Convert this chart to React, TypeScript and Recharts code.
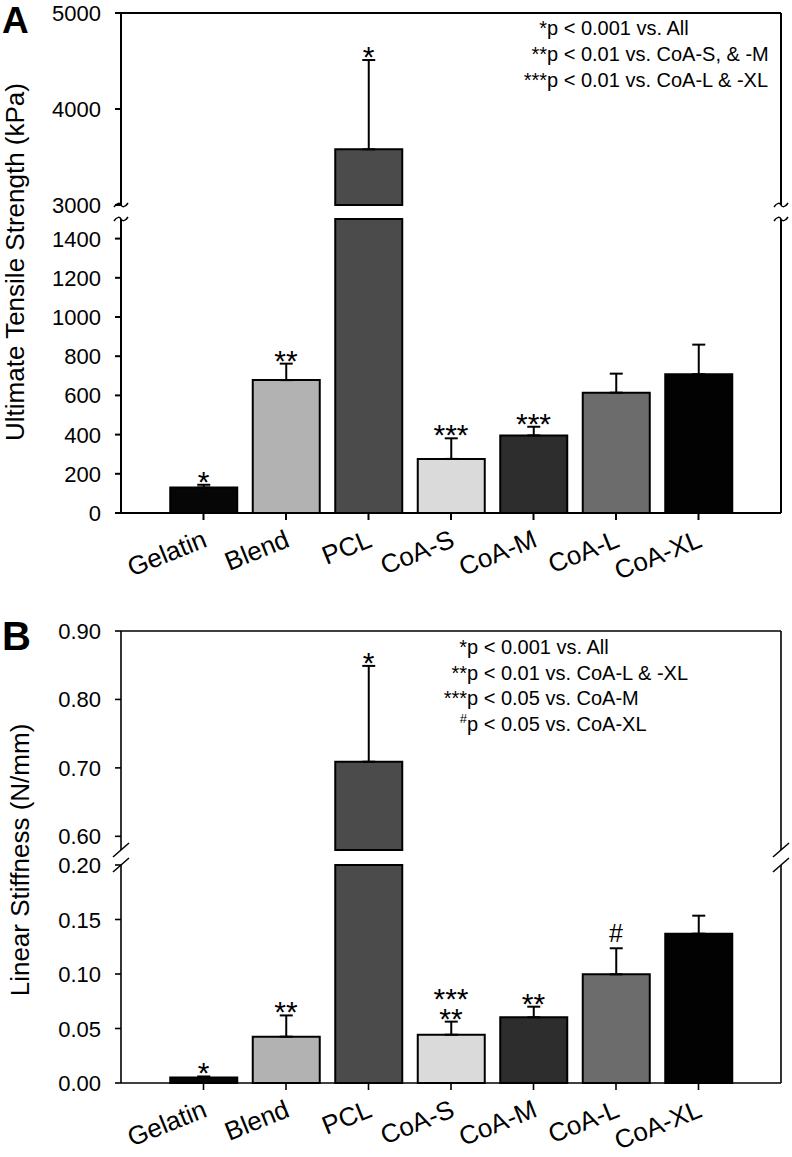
import { ComposedChart, Bar, Cell, ErrorBar, XAxis, YAxis, Line, LabelList } from 'recharts'

const FONT = '"Liberation Sans", Arial, sans-serif'

const groups = ['Gelatin', 'Blend', 'PCL', 'CoA-S', 'CoA-M', 'CoA-L', 'CoA-XL']
const barColors = ['#060606', '#b2b2b2', '#4b4b4b', '#dadada', '#2d2d2d', '#6c6c6c', '#020202']

// panel A - ultimate tensile strength (kPa)
const strengthMean = [130, 678, 3580, 276, 396, 614, 708]
const strengthSd = [14, 84, 930, 105, 44, 97, 151]
const strengthMarks = ['*', '**', '*', '***', '***', '', '']
const strengthLowTicks = [0, 200, 400, 600, 800, 1000, 1200, 1400]
const strengthHighTicks = [3000, 4000, 5000]
const strengthNotes = [
  ['*', 'p < 0.001 vs. All'],
  ['**', 'p < 0.01 vs. CoA-S, & -M'],
  ['***', 'p < 0.01 vs. CoA-L & -XL'],
]

// panel B - linear stiffness (N/mm)
const stiffMean = [0.005, 0.0425, 0.709, 0.0443, 0.0603, 0.0997, 0.137]
const stiffSd = [0.001, 0.0195, 0.14, 0.012, 0.0097, 0.0239, 0.0165]
const stiffMarks = ['*', '**', '*', '***\n**', '**', '#', '']
const stiffLowTicks = [0, 0.05, 0.1, 0.15, 0.2]
const stiffHighTicks = [0.6, 0.7, 0.8, 0.9]
const stiffNotes = [
  ['*', 'p < 0.001 vs. All'],
  ['**', 'p < 0.01 vs. CoA-L & -XL'],
  ['***', 'p < 0.05 vs. CoA-M'],
  ['#', 'p < 0.05 vs. CoA-XL'],
]

function splitRows(mean: number[], sd: number[], marks: string[], cut: number, upper: boolean) {
  return groups.map((name, i) => {
    const over = mean[i] > cut
    const keep = upper ? over : !over
    return {
      name,
      val: upper ? (over ? mean[i] : null) : Math.min(mean[i], cut),
      err: keep ? [0, sd[i]] : null,
      top: keep ? mean[i] + sd[i] : null,
      mark: keep ? marks[i] : '',
    }
  })
}

const MarkLabel = (props: any) => {
  const { x, y, value } = props
  if (y == null || x == null || !value) return null
  const lines = String(value).split('\n')
  const hash = value === '#'
  const base = hash ? y - 6 : y + 7
  return (
    <text x={x} y={base - (lines.length - 1) * 20} textAnchor="middle" fontSize={hash ? 25 : 30} fontFamily={FONT} fill="#000">
      {lines.map((t, k) => (
        <tspan key={k} x={x} dy={k === 0 ? 0 : 20}>
          {t}
        </tspan>
      ))}
    </text>
  )
}

const GroupTick = (props: any) => {
  const { x, y, payload } = props
  const ax = x + 5
  const ay = y + 24
  return (
    <text x={ax} y={ay} transform={`rotate(-22, ${ax}, ${ay})`} textAnchor="end" fontSize={26} fontFamily={FONT} fill="#000">
      {payload.value}
    </text>
  )
}

const ValueTick = (props: any) => {
  const { x, y, payload, fmt } = props
  return (
    <text x={x} y={y + 8} textAnchor="end" fontSize={22} fontFamily={FONT} fill="#000">
      {fmt(payload.value)}
    </text>
  )
}

interface SegProps {
  rows: any[]
  top: number
  height: number
  marginTop: number
  marginBottom: number
  domain: [number, number]
  ticks: number[]
  fmt: (v: number) => string
  bottom: boolean
  lw: number
}

function Segment({ rows, top, height, marginTop, marginBottom, domain, ticks, fmt, bottom, lw }: SegProps) {
  const line = { stroke: '#000', strokeWidth: lw }
  return (
    <div style={{ position: 'absolute', left: 0, top }}>
      <ComposedChart width={792} height={height} data={rows} margin={{ top: marginTop, right: 10, left: 0, bottom: marginBottom }}>
        {bottom ? (
          <XAxis
            dataKey="name"
            interval={0}
            padding={{ left: 41.25, right: 41.25 }}
            tickSize={7}
            tickLine={line}
            axisLine={line}
            tick={<GroupTick />}
            height={80}
          />
        ) : (
          <XAxis dataKey="name" orientation="top" height={1} padding={{ left: 41.25, right: 41.25 }} tick={false} tickLine={false} axisLine={line} />
        )}
        <YAxis
          domain={domain}
          ticks={ticks}
          width={121}
          tickSize={6}
          tickMargin={14}
          tickLine={line}
          axisLine={line}
          tick={(p: any) => <ValueTick {...p} fmt={fmt} />}
        />
        <YAxis yAxisId="r" orientation="right" domain={domain} ticks={ticks} width={1} tick={false} tickLine={false} axisLine={line} />
        <Bar dataKey="val" barSize={67} stroke="#000" strokeWidth={2} isAnimationActive={false}>
          {rows.map((r, i) => (
            <Cell key={r.name} fill={barColors[i]} />
          ))}
          <ErrorBar dataKey="err" width={6.5} stroke="#000" strokeWidth={2} />
        </Bar>
        <Line yAxisId="r" dataKey="top" stroke="none" dot={false} activeDot={false} isAnimationActive={false}>
          <LabelList dataKey="mark" content={<MarkLabel />} />
        </Line>
      </ComposedChart>
    </div>
  )
}

function Notes({ notes, x, y0, step }: { notes: string[][]; x: number; y0: number; step: number }) {
  return (
    <g fontFamily={FONT} fontSize={20} fill="#000">
      {notes.map(([s, t], i) => (
        <g key={i}>
          {s === '#' ? (
            <text x={x} y={y0 + i * step - 8} textAnchor="end" fontSize={13}>
              {s}
            </text>
          ) : (
            <text x={x} y={y0 + i * step} textAnchor="end">
              {s}
            </text>
          )}
          <text x={x} y={y0 + i * step}>
            {t}
          </text>
        </g>
      ))}
    </g>
  )
}

export default function App() {
  const intFmt = (v: number) => String(v)
  const decFmt = (v: number) => v.toFixed(2)
  const curl = (x: number, y: number) =>
    `M${x - 7},${y + 2} C${x - 4},${y - 3} ${x - 1},${y - 2} ${x},${y} C${x + 1},${y + 2} ${x + 4},${y + 3} ${x + 7},${y - 2}`
  return (
    <div style={{ position: 'absolute', left: 0, top: 0, width: 792, height: 1157, background: '#fff', overflow: 'hidden' }}>
      <Segment rows={splitRows(strengthMean, strengthSd, strengthMarks, 1500, true)} top={0} height={221} marginTop={12} marginBottom={16} domain={[3000, 5000]} ticks={strengthHighTicks} fmt={intFmt} bottom={false} lw={2} />
      <Segment rows={splitRows(strengthMean, strengthSd, strengthMarks, 1500, false)} top={207} height={386} marginTop={12} marginBottom={0} domain={[0, 1500]} ticks={strengthLowTicks} fmt={intFmt} bottom={true} lw={2} />
      <Segment rows={splitRows(stiffMean, stiffSd, stiffMarks, 0.2, true)} top={618} height={248} marginTop={12} marginBottom={16} domain={[0.58, 0.9]} ticks={stiffHighTicks} fmt={decFmt} bottom={false} lw={1.6} />
      <Segment rows={splitRows(stiffMean, stiffSd, stiffMarks, 0.2, false)} top={853} height={310} marginTop={12} marginBottom={0} domain={[0, 0.2]} ticks={stiffLowTicks} fmt={decFmt} bottom={true} lw={1.6} />
      <svg width={792} height={1157} style={{ position: 'absolute', left: 0, top: 0, pointerEvents: 'none' }}>
        <text x={2} y={33} fontFamily={FONT} fontWeight="bold" fontSize={37} fill="#000">A</text>
        <text x={2} y={650} fontFamily={FONT} fontWeight="bold" fontSize={40} fill="#000">B</text>
        <text x={24} y={262} transform="rotate(-90, 24, 262)" textAnchor="middle" fontFamily={FONT} fontSize={26} fill="#000">
          Ultimate Tensile Strength (kPa)
        </text>
        <text x={29} y={860} transform="rotate(-90, 29, 860)" textAnchor="middle" fontFamily={FONT} fontSize={26} fill="#000">
          Linear Stiffness (N/mm)
        </text>
        <Notes notes={strengthNotes} x={547} y0={35} step={26} />
        <Notes notes={stiffNotes} x={467} y0={654} step={25.5} />
        <g fill="none" stroke="#000" strokeWidth={1.5}>
          <path d={curl(121, 205)} />
          <path d={curl(121, 219)} />
          <path d={curl(781, 205)} />
          <path d={curl(781, 219)} />
          <line x1={113} y1={857} x2={129} y2={843} />
          <line x1={113} y1={872} x2={129} y2={858} />
          <line x1={773} y1={857} x2={789} y2={843} />
          <line x1={773} y1={872} x2={789} y2={858} />
        </g>
      </svg>
    </div>
  )
}
